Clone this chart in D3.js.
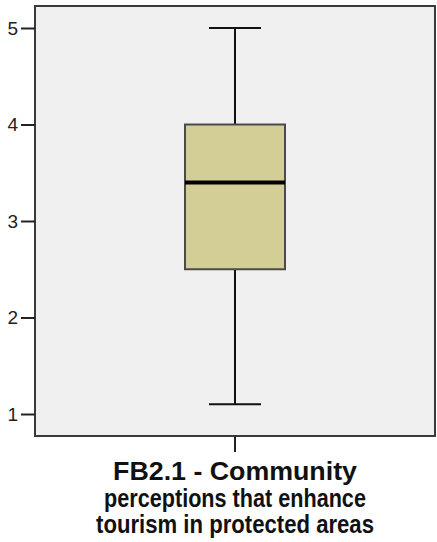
<!DOCTYPE html>
<html>
<head>
<meta charset="utf-8">
<script src="https://cdn.jsdelivr.net/npm/d3@7"></script>
<style>
  html, body { margin: 0; padding: 0; background: #ffffff; }
  svg { display: block; }
</style>
</head>
<body>
<svg id="chart" width="437" height="542"></svg>
<script>
// Five-number summary of the rating scale
const category = "FB2.1 - Community perceptions that enhance tourism in protected areas";
const titleLines = ["FB2.1 - Community", "perceptions that enhance", "tourism in protected areas"];
const whiskerLow = [1.1];
const quartile1 = [2.5];
const medianVal = [3.4];
const quartile3 = [4.0];
const whiskerHigh = [5.0];
const yTicks = [1, 2, 3, 4, 5];

const svg = d3.select("#chart");
const plot = { left: 35, top: 6, right: 435, bottom: 436 };

const y = d3.scaleLinear().domain([1, 5]).range([414, 28]);
const x = d3.scaleBand().domain([category]).range([plot.left, plot.right]).padding(0);

// Plot background and frame
svg.append("rect")
  .attr("x", plot.left).attr("y", plot.top)
  .attr("width", plot.right - plot.left).attr("height", plot.bottom - plot.top)
  .attr("fill", "#f0f0f0")
  .attr("stroke", "#3a3a3a").attr("stroke-width", 2);

// Y axis ticks and labels
const yAxis = d3.axisLeft(y).tickValues(yTicks).tickSize(14).tickPadding(3).tickFormat(d3.format("d"));
const gy = svg.append("g").attr("transform", `translate(${plot.left},0)`).call(yAxis);
gy.select(".domain").remove();
gy.selectAll(".tick line").attr("stroke", "#222").attr("stroke-width", 2);
gy.selectAll(".tick text")
  .attr("font-family", "Arial, 'Liberation Sans', sans-serif")
  .attr("font-size", 19).attr("fill", "#222");

// X axis tick
const xAxis = d3.axisBottom(x).tickSize(16).tickFormat("");
const gx = svg.append("g").attr("transform", `translate(0,${plot.bottom})`).call(xAxis);
gx.select(".domain").remove();
gx.selectAll(".tick line").attr("stroke", "#222").attr("stroke-width", 2);

// Box plot
const cx = x(category) + x.bandwidth() / 2;
const boxW = 100, capW = 52;
const g = svg.append("g");

// Whisker stems
g.append("line").attr("x1", cx).attr("x2", cx)
  .attr("y1", y(whiskerHigh[0])).attr("y2", y(quartile3[0]))
  .attr("stroke", "#111").attr("stroke-width", 2);
g.append("line").attr("x1", cx).attr("x2", cx)
  .attr("y1", y(quartile1[0])).attr("y2", y(whiskerLow[0]))
  .attr("stroke", "#111").attr("stroke-width", 2);
// Whisker caps
[whiskerHigh[0], whiskerLow[0]].forEach(v => {
  g.append("line").attr("x1", cx - capW / 2).attr("x2", cx + capW / 2)
    .attr("y1", y(v)).attr("y2", y(v))
    .attr("stroke", "#111").attr("stroke-width", 2);
});
// Box
g.append("rect")
  .attr("x", cx - boxW / 2).attr("y", y(quartile3[0]))
  .attr("width", boxW).attr("height", y(quartile1[0]) - y(quartile3[0]))
  .attr("fill", "#d3cd96").attr("stroke", "#4a4a4a").attr("stroke-width", 2);
// Median
g.append("line").attr("x1", cx - boxW / 2).attr("x2", cx + boxW / 2)
  .attr("y1", y(medianVal[0])).attr("y2", y(medianVal[0]))
  .attr("stroke", "#000").attr("stroke-width", 4);

// Category title: same glyph height on every line, each line fitted to its width
const lineWidths = [244, 262, 278];
titleLines.forEach((t, i) => {
  const txt = svg.append("text")
    .attr("text-anchor", "middle")
    .attr("font-family", "Arial, 'Liberation Sans', sans-serif")
    .attr("font-weight", "bold").attr("font-size", 25).attr("fill", "#111")
    .text(t);
  const natural = txt.node().getComputedTextLength();
  const sx = lineWidths[i] / natural;
  txt.attr("transform", `translate(${cx},${480 + i * 26.5}) scale(${sx},1)`);
});
</script>
</body>
</html>
